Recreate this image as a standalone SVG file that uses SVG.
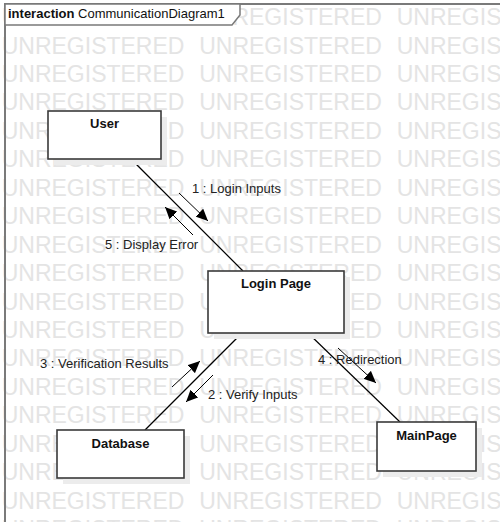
<svg xmlns="http://www.w3.org/2000/svg" width="500" height="522" viewBox="0 0 500 522">
<defs>
<style>
.wm{font-family:"Liberation Sans",Arial,sans-serif;font-size:23px;fill:#e4e4e4}
.frame{fill:none;stroke:#7a7a7a;stroke-width:2}
.tab{fill:#fff;stroke:#7a7a7a;stroke-width:1.5}
.box{fill:#fff;stroke:#3a3a3a;stroke-width:1.6}
.shadow{fill:#ececec}
.name{font-family:"Liberation Sans",Arial,sans-serif;font-size:13px;font-weight:bold;fill:#111;text-anchor:middle}
.lbl{font-family:"Liberation Sans",Arial,sans-serif;font-size:13px;fill:#222}
.link{stroke:#000;stroke-width:1.2;fill:none}
.msg{stroke:#000;stroke-width:1;fill:none;marker-end:url(#ah)}
</style>
<marker id="ah" markerUnits="userSpaceOnUse" markerWidth="13" markerHeight="11" refX="12" refY="5.5" orient="auto">
<path d="M0,0 L12,5.5 L0,11 z" fill="#000"/>
</marker>
</defs>
<rect width="500" height="522" fill="#fff"/>
<g id="watermark" class="wm">
<text y="25"><tspan x="1.7">UNREGISTERED</tspan><tspan x="199.2">UNREGISTERED</tspan><tspan x="396.7">UNREGISTERED</tspan></text>
<text y="53.5"><tspan x="1.7">UNREGISTERED</tspan><tspan x="199.2">UNREGISTERED</tspan><tspan x="396.7">UNREGISTERED</tspan></text>
<text y="82"><tspan x="1.7">UNREGISTERED</tspan><tspan x="199.2">UNREGISTERED</tspan><tspan x="396.7">UNREGISTERED</tspan></text>
<text y="110.4"><tspan x="1.7">UNREGISTERED</tspan><tspan x="199.2">UNREGISTERED</tspan><tspan x="396.7">UNREGISTERED</tspan></text>
<text y="138.8"><tspan x="1.7">UNREGISTERED</tspan><tspan x="199.2">UNREGISTERED</tspan><tspan x="396.7">UNREGISTERED</tspan></text>
<text y="167.3"><tspan x="1.7">UNREGISTERED</tspan><tspan x="199.2">UNREGISTERED</tspan><tspan x="396.7">UNREGISTERED</tspan></text>
<text y="195.7"><tspan x="1.7">UNREGISTERED</tspan><tspan x="199.2">UNREGISTERED</tspan><tspan x="396.7">UNREGISTERED</tspan></text>
<text y="224.2"><tspan x="1.7">UNREGISTERED</tspan><tspan x="199.2">UNREGISTERED</tspan><tspan x="396.7">UNREGISTERED</tspan></text>
<text y="252.6"><tspan x="1.7">UNREGISTERED</tspan><tspan x="199.2">UNREGISTERED</tspan><tspan x="396.7">UNREGISTERED</tspan></text>
<text y="281"><tspan x="1.7">UNREGISTERED</tspan><tspan x="199.2">UNREGISTERED</tspan><tspan x="396.7">UNREGISTERED</tspan></text>
<text y="309.5"><tspan x="1.7">UNREGISTERED</tspan><tspan x="199.2">UNREGISTERED</tspan><tspan x="396.7">UNREGISTERED</tspan></text>
<text y="337.9"><tspan x="1.7">UNREGISTERED</tspan><tspan x="199.2">UNREGISTERED</tspan><tspan x="396.7">UNREGISTERED</tspan></text>
<text y="366.4"><tspan x="1.7">UNREGISTERED</tspan><tspan x="199.2">UNREGISTERED</tspan><tspan x="396.7">UNREGISTERED</tspan></text>
<text y="394.8"><tspan x="1.7">UNREGISTERED</tspan><tspan x="199.2">UNREGISTERED</tspan><tspan x="396.7">UNREGISTERED</tspan></text>
<text y="423.3"><tspan x="1.7">UNREGISTERED</tspan><tspan x="199.2">UNREGISTERED</tspan><tspan x="396.7">UNREGISTERED</tspan></text>
<text y="451.7"><tspan x="1.7">UNREGISTERED</tspan><tspan x="199.2">UNREGISTERED</tspan><tspan x="396.7">UNREGISTERED</tspan></text>
<text y="480.2"><tspan x="1.7">UNREGISTERED</tspan><tspan x="199.2">UNREGISTERED</tspan><tspan x="396.7">UNREGISTERED</tspan></text>
<text y="508.6"><tspan x="1.7">UNREGISTERED</tspan><tspan x="199.2">UNREGISTERED</tspan><tspan x="396.7">UNREGISTERED</tspan></text>
<text y="537"><tspan x="1.7">UNREGISTERED</tspan><tspan x="199.2">UNREGISTERED</tspan><tspan x="396.7">UNREGISTERED</tspan></text>
</g>
<g id="frame">
<rect class="frame" x="5" y="4" width="600" height="600"/>
<path class="tab" d="M5,4 L240,4 L240,15 L232,25 L5,25 Z"/>
<text x="8" y="18" font-family="Liberation Sans, Arial, sans-serif" font-size="13" fill="#111"><tspan font-weight="bold">interaction</tspan> CommunicationDiagram1</text>
</g>
<g id="connectors">
<line class="link" x1="131" y1="159" x2="243" y2="271"/>
<line class="link" x1="145" y1="430" x2="242" y2="333"/>
<line class="link" x1="308" y1="333" x2="400" y2="422"/>
<line class="msg" x1="179" y1="193" x2="208" y2="221"/>
<line class="msg" x1="193" y1="235" x2="165" y2="207"/>
<line class="msg" x1="213" y1="375" x2="186" y2="402"/>
<line class="msg" x1="172" y1="387" x2="200" y2="361"/>
<line class="msg" x1="338" y1="348" x2="376" y2="383"/>
<text class="lbl" x="192" y="193">1 : Login Inputs</text>
<text class="lbl" x="105" y="249">5 : Display Error</text>
<text class="lbl" x="208" y="399">2 : Verify Inputs</text>
<text class="lbl" x="40" y="368">3 : Verification Results</text>
<text class="lbl" x="318" y="364">4 : Redirection</text>
</g>
<g id="node-user">
<rect class="shadow" x="54" y="117" width="113" height="48"/>
<rect class="box" x="48" y="111" width="113" height="48"/>
<text class="name" x="104.5" y="128">User</text>
</g>
<g id="node-loginpage">
<rect class="shadow" x="214" y="277" width="136" height="62"/>
<rect class="box" x="208" y="271" width="136" height="62"/>
<text class="name" x="276" y="288">Login Page</text>
</g>
<g id="node-database">
<rect class="shadow" x="63" y="436" width="127" height="48"/>
<rect class="box" x="57" y="430" width="127" height="48"/>
<text class="name" x="120.5" y="448">Database</text>
</g>
<g id="node-mainpage">
<rect class="shadow" x="383" y="428" width="99" height="49"/>
<rect class="box" x="377" y="422" width="99" height="49"/>
<text class="name" x="426.5" y="440">MainPage</text>
</g>
</svg>
